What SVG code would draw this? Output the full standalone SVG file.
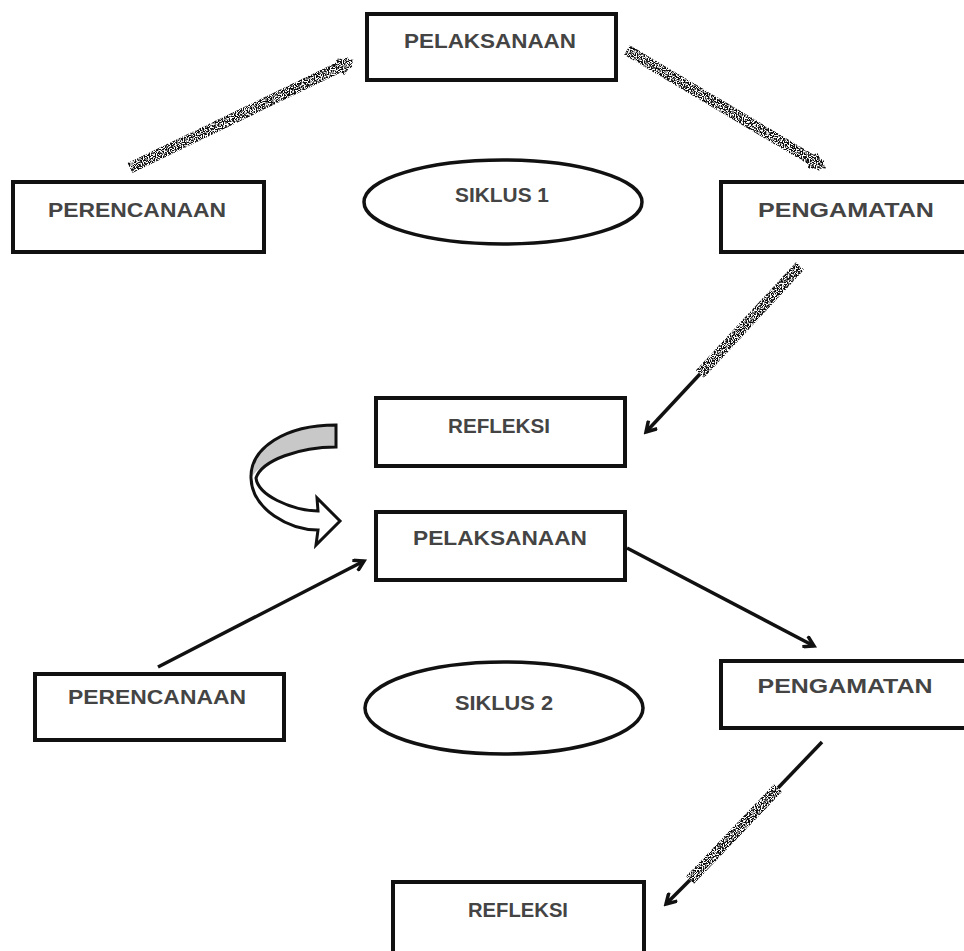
<svg xmlns="http://www.w3.org/2000/svg" width="964" height="951" viewBox="0 0 964 951">
<style>
.box{fill:#fff;stroke:#111;stroke-width:4}
.ell{fill:#fff;stroke:#111;stroke-width:3.5}
.t{font-family:"Liberation Sans","Open Sans",sans-serif;font-weight:700;font-size:20px;fill:#444;text-anchor:middle;dominant-baseline:middle}
.c{fill:none;stroke:#111;stroke-width:3.5}
.n{fill:none;stroke:#111;stroke-width:11}
</style>
<defs>
<marker id="ah" markerWidth="14" markerHeight="14" refX="11" refY="7" orient="auto" markerUnits="userSpaceOnUse">
<path d="M1,1 L11,7 L1,13" fill="none" stroke="#111" stroke-width="3.5"/>
</marker>
<marker id="ahn" markerWidth="18" markerHeight="18" refX="13" refY="9" orient="auto" markerUnits="userSpaceOnUse">
<path d="M1,2 L13,9 L1,16" fill="none" stroke="#111" stroke-width="5"/>
</marker>
<filter id="speckle" filterUnits="userSpaceOnUse" x="0" y="0" width="964" height="951">
<feTurbulence type="fractalNoise" baseFrequency="0.85" numOctaves="1" seed="4" result="noise"/>
<feColorMatrix in="noise" type="matrix" values="0 0 0 0 0  0 0 0 0 0  0 0 0 0 0  8 0 0 0 -3.4" result="mask"/>
<feComposite in="SourceGraphic" in2="mask" operator="in"/>
</filter>
</defs>
<rect width="964" height="951" fill="#fff"/>
<g id="connectors">
<g filter="url(#speckle)">
<line class="n" x1="130" y1="168" x2="350" y2="62" marker-end="url(#ahn)"/>
<line class="n" x1="627" y1="50" x2="822" y2="166" marker-end="url(#ahn)"/>
<line class="n" x1="800" y1="266" x2="700" y2="374"/>
</g>
<line class="c" x1="700" y1="374" x2="646" y2="432" marker-end="url(#ah)"/>
<line class="c" x1="158" y1="667" x2="364" y2="561" marker-end="url(#ah)"/>
<line class="c" x1="627" y1="548" x2="814" y2="646" marker-end="url(#ah)"/>
<line class="c" x1="822" y1="742" x2="778" y2="788"/>
<line class="n" filter="url(#speckle)" x1="778" y1="788" x2="690" y2="880"/>
<line class="c" x1="690" y1="880" x2="666" y2="904" marker-end="url(#ah)"/>
<g id="curved-arrow">
<path d="M336,425 C285,425 250,448 251,478 C252,510 290,530 318,530 L316,545 L340,521 L317,498 L318,511 C290,510 258,495 256,478 C262,460 300,447 336,447 Z" fill="#fff"/>
<path d="M336,425 C285,425 250,448 251,478 C262,460 300,447 336,447 Z" fill="#c8c8c8"/>
<path d="M336,425 C285,425 250,448 251,478 C252,510 290,530 318,530 L316,545 L340,521 L317,498 L318,511 C290,510 258,495 256,478 C262,460 300,447 336,447 Z" fill="none" stroke="#111" stroke-width="3"/>
</g>
</g>
<g id="pelaksanaan1"><rect class="box" x="367" y="14" width="249" height="66"/><text class="t" x="490" y="43" textLength="172" lengthAdjust="spacingAndGlyphs">PELAKSANAAN</text></g>
<g id="perencanaan1"><rect class="box" x="13" y="182" width="251" height="70"/><text class="t" x="137" y="212" textLength="178" lengthAdjust="spacingAndGlyphs">PERENCANAAN</text></g>
<g id="siklus1"><ellipse class="ell" cx="503" cy="202" rx="139" ry="42"/><text class="t" x="502" y="197" textLength="94" lengthAdjust="spacingAndGlyphs">SIKLUS 1</text></g>
<g id="pengamatan1"><rect class="box" x="721" y="182" width="250" height="70"/><text class="t" x="846" y="212" textLength="176" lengthAdjust="spacingAndGlyphs">PENGAMATAN</text></g>
<g id="refleksi1"><rect class="box" x="376" y="398" width="249" height="68"/><text class="t" x="499" y="428" textLength="102" lengthAdjust="spacingAndGlyphs">REFLEKSI</text></g>
<g id="pelaksanaan2"><rect class="box" x="376" y="512" width="249" height="68"/><text class="t" x="500" y="540" textLength="174" lengthAdjust="spacingAndGlyphs">PELAKSANAAN</text></g>
<g id="perencanaan2"><rect class="box" x="35" y="674" width="249" height="66"/><text class="t" x="157" y="699" textLength="178" lengthAdjust="spacingAndGlyphs">PERENCANAAN</text></g>
<g id="siklus2"><ellipse class="ell" cx="504" cy="708" rx="139" ry="46"/><text class="t" x="504" y="705" textLength="98" lengthAdjust="spacingAndGlyphs">SIKLUS 2</text></g>
<g id="pengamatan2"><rect class="box" x="721" y="661" width="250" height="67"/><text class="t" x="845" y="688" textLength="175" lengthAdjust="spacingAndGlyphs">PENGAMATAN</text></g>
<g id="refleksi2"><rect class="box" x="393" y="882" width="251" height="75"/><text class="t" x="518" y="912" textLength="100" lengthAdjust="spacingAndGlyphs">REFLEKSI</text></g>
</svg>
